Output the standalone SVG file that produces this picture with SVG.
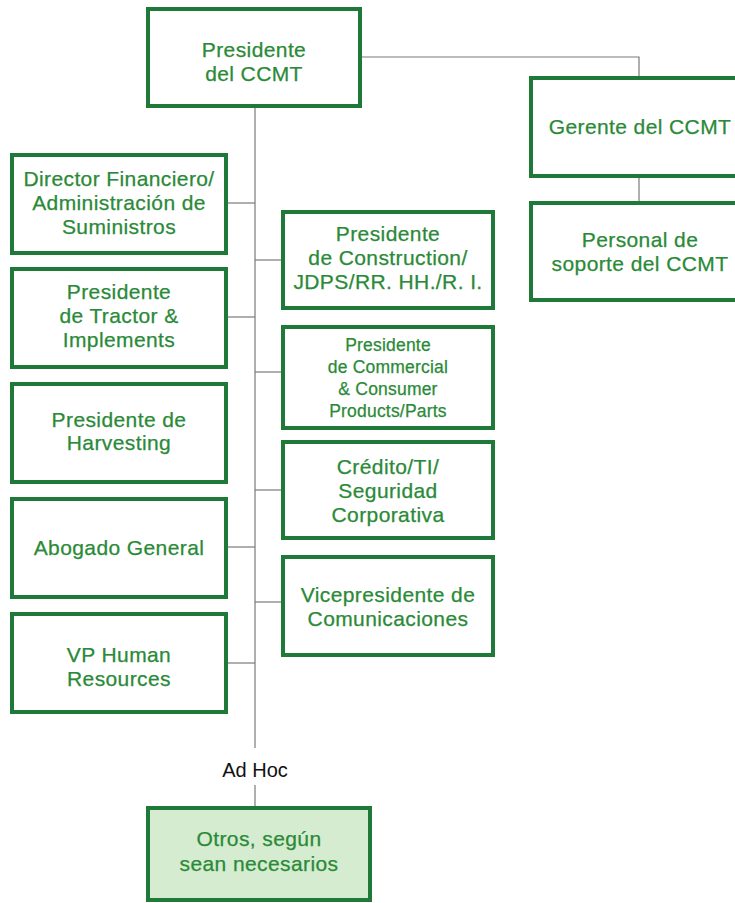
<svg xmlns="http://www.w3.org/2000/svg" width="735" height="903" viewBox="0 0 735 903">
  <style>
    .box { fill: #ffffff; stroke: #1f7a3a; stroke-width: 4; }
    .box-adhoc { fill: #d5ecd1; stroke: #1f7a3a; stroke-width: 4; }
    .lbl { font-family: "Liberation Sans", Arial, sans-serif; font-size: 21px; fill: #2a8a37; stroke: #2a8a37; stroke-width: 0.25; text-anchor: middle; letter-spacing: 0.4px; }
    .lbl-sm { font-size: 17.5px; letter-spacing: 0.2px; }
    .plain { font-family: "Liberation Sans", Arial, sans-serif; font-size: 20px; fill: #111111; text-anchor: middle; }
    .link { fill: none; stroke: #7a7a7a; stroke-width: 1.2; }
  </style>

  <rect width="735" height="903" fill="#ffffff"/>

  <!-- connectors -->
  <g id="connectors">
    <path class="link" d="M255 106 V748"/>
    <path class="link" d="M360 57 H639 V77"/>
    <path class="link" d="M639 176 V203"/>
    <path class="link" d="M226 203 H255"/>
    <path class="link" d="M226 317 H255"/>
    <path class="link" d="M226 547 H255"/>
    <path class="link" d="M226 663 H255"/>
    <path class="link" d="M255 260 H283"/>
    <path class="link" d="M255 372 H283"/>
    <path class="link" d="M255 490 H283"/>
    <path class="link" d="M255 602 H283"/>
    <path class="link" d="M255 785 V807"/>
  </g>

  <g id="presidente-ccmt">
    <rect class="box" x="148" y="9" width="212" height="97"/>
    <text class="lbl"><tspan x="254" y="57">Presidente</tspan><tspan x="254" y="81">del CCMT</tspan></text>
  </g>

  <g id="gerente-ccmt">
    <rect class="box" x="531" y="78" width="220" height="98"/>
    <text class="lbl"><tspan x="640" y="134">Gerente del CCMT</tspan></text>
  </g>

  <g id="personal-soporte">
    <rect class="box" x="531" y="203" width="220" height="97"/>
    <text class="lbl"><tspan x="640" y="247">Personal de</tspan><tspan x="640" y="271">soporte del CCMT</tspan></text>
  </g>

  <g id="director-financiero">
    <rect class="box" x="12" y="155" width="214" height="98"/>
    <text class="lbl"><tspan x="119" y="186">Director Financiero/</tspan><tspan x="119" y="210">Administración de</tspan><tspan x="119" y="234">Suministros</tspan></text>
  </g>

  <g id="presidente-tractor">
    <rect class="box" x="12" y="269" width="214" height="98"/>
    <text class="lbl"><tspan x="119" y="299">Presidente</tspan><tspan x="119" y="323">de Tractor &amp;</tspan><tspan x="119" y="347">Implements</tspan></text>
  </g>

  <g id="presidente-harvesting">
    <rect class="box" x="12" y="384" width="214" height="98"/>
    <text class="lbl"><tspan x="119" y="427">Presidente de</tspan><tspan x="119" y="450">Harvesting</tspan></text>
  </g>

  <g id="abogado-general">
    <rect class="box" x="12" y="499" width="214" height="98"/>
    <text class="lbl"><tspan x="119" y="555">Abogado General</tspan></text>
  </g>

  <g id="vp-human-resources">
    <rect class="box" x="12" y="614" width="214" height="98"/>
    <text class="lbl"><tspan x="119" y="662">VP Human</tspan><tspan x="119" y="686">Resources</tspan></text>
  </g>

  <g id="presidente-construction">
    <rect class="box" x="283" y="212" width="210" height="96"/>
    <text class="lbl"><tspan x="388" y="241">Presidente</tspan><tspan x="388" y="265">de Construction/</tspan><tspan x="388" y="289">JDPS/RR. HH./R. I.</tspan></text>
  </g>

  <g id="presidente-commercial">
    <rect class="box" x="283" y="327" width="210" height="101"/>
    <text class="lbl lbl-sm"><tspan x="388" y="351">Presidente</tspan><tspan x="388" y="373">de Commercial</tspan><tspan x="388" y="395">&amp; Consumer</tspan><tspan x="388" y="417">Products/Parts</tspan></text>
  </g>

  <g id="credito-ti">
    <rect class="box" x="283" y="442" width="210" height="96"/>
    <text class="lbl"><tspan x="388" y="474">Crédito/TI/</tspan><tspan x="388" y="498">Seguridad</tspan><tspan x="388" y="522">Corporativa</tspan></text>
  </g>

  <g id="vp-comunicaciones">
    <rect class="box" x="283" y="557" width="210" height="98"/>
    <text class="lbl"><tspan x="388" y="602">Vicepresidente de</tspan><tspan x="388" y="626">Comunicaciones</tspan></text>
  </g>

  <g id="ad-hoc-label">
    <text class="plain" x="255" y="777">Ad Hoc</text>
  </g>

  <g id="otros">
    <rect class="box-adhoc" x="148" y="808" width="222" height="92"/>
    <text class="lbl"><tspan x="259" y="846">Otros, según</tspan><tspan x="259" y="871">sean necesarios</tspan></text>
  </g>
</svg>
